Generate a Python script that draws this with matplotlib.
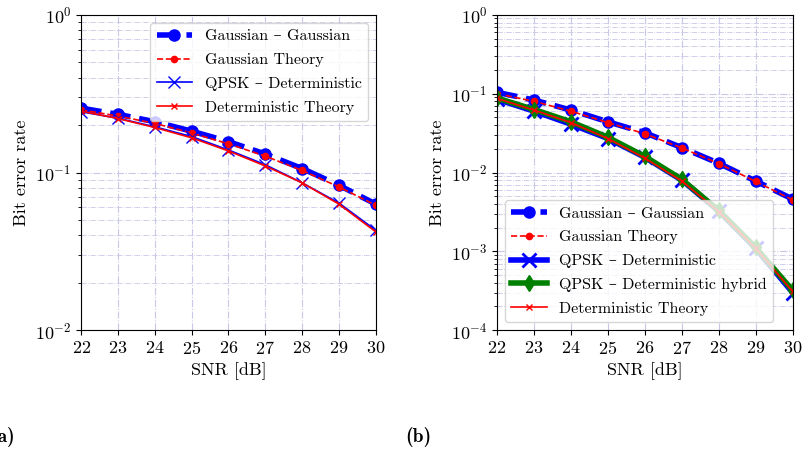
import matplotlib
matplotlib.use("Agg")
import matplotlib.pyplot as plt
from matplotlib.ticker import LogLocator, NullFormatter

plt.rcParams['font.family'] = ['cmr10', 'DejaVu Serif']
plt.rcParams['mathtext.fontset'] = 'cm'
plt.rcParams['axes.formatter.use_mathtext'] = True
plt.rcParams['font.size'] = 13

snr = [22, 23, 24, 25, 26, 27, 28, 29, 30]

# panel (a)
a_gauss_sim = [0.256, 0.234, 0.210, 0.183, 0.157, 0.131, 0.106, 0.083, 0.063]
a_gauss_th = [0.250, 0.228, 0.205, 0.178, 0.152, 0.127, 0.103, 0.081, 0.062]
a_qpsk_det = [0.243, 0.221, 0.195, 0.169, 0.139, 0.112, 0.086, 0.064, 0.043]
a_det_th = [0.245, 0.220, 0.193, 0.166, 0.137, 0.110, 0.086, 0.063, 0.042]

# panel (b)
b_gauss_sim = [0.104, 0.083, 0.062, 0.044, 0.032, 0.0207, 0.0131, 0.0078, 0.0046]
b_gauss_th = [0.100, 0.080, 0.060, 0.043, 0.031, 0.0205, 0.0130, 0.0077, 0.0045]
b_qpsk_det = [0.085, 0.060, 0.041, 0.027, 0.0156, 0.0080, 0.00325, 0.00109, 0.00030]
b_qpsk_hyb = [0.088, 0.063, 0.044, 0.028, 0.0160, 0.0082, 0.00330, 0.00112, 0.00032]
b_det_th = [0.087, 0.062, 0.043, 0.027, 0.0152, 0.0078, 0.00320, 0.00110, 0.00031]

grid_col = '#c8c8e8'


def style_axes(ax, ymin):
    ax.set_yscale('log')
    ax.set_xlim(22, 30)
    ax.set_ylim(ymin, 1)
    ax.set_xticks(snr)
    ax.yaxis.set_minor_locator(LogLocator(base=10, subs=range(2, 10), numticks=20))
    ax.yaxis.set_minor_formatter(NullFormatter())
    ax.grid(True, which='major', linestyle='-.', color=grid_col, linewidth=0.8)
    ax.grid(True, which='minor', linestyle='-.', color=grid_col, linewidth=0.6)
    ax.set_xlabel('SNR [dB]')
    ax.set_ylabel('Bit error rate')
    ax.tick_params(axis='both', labelsize=13)


fig = plt.figure(figsize=(8.03, 4.51), dpi=100)

ax1 = fig.add_axes([0.101, 0.268, 0.367, 0.699])
ax1.plot(snr, a_gauss_sim, '--', color='blue', lw=4, marker='o', ms=8, label='Gaussian – Gaussian')
ax1.plot(snr, a_gauss_th, '--', color='red', lw=1.2, marker='o', ms=4.5, label='Gaussian Theory')
ax1.plot(snr, a_qpsk_det, '-', color='blue', lw=1.2, marker='x', ms=8, label='QPSK – Deterministic')
ax1.plot(snr, a_det_th, '-', color='red', lw=1.2, marker='x', ms=5, label='Deterministic Theory')
style_axes(ax1, 1e-2)
ax1.legend(loc='upper right', fontsize=11.5, framealpha=0.8, handlelength=2.2, labelspacing=0.6)

ax2 = fig.add_axes([0.619, 0.268, 0.368, 0.699])
ax2.plot(snr, b_gauss_sim, '--', color='blue', lw=4, marker='o', ms=8, label='Gaussian – Gaussian')
ax2.plot(snr, b_gauss_th, '--', color='red', lw=1.2, marker='o', ms=4.5, label='Gaussian Theory')
ax2.plot(snr, b_qpsk_det, '-', color='blue', lw=4, marker='x', ms=10, mew=2, label='QPSK – Deterministic')
ax2.plot(snr, b_qpsk_hyb, '-', color='green', lw=4, marker='d', ms=8, label='QPSK – Deterministic hybrid')
ax2.plot(snr, b_det_th, '-', color='red', lw=1.2, marker='x', ms=5, label='Deterministic Theory')
style_axes(ax2, 1e-4)
ax2.legend(loc='lower left', fontsize=11.5, framealpha=0.8, handlelength=2.2, labelspacing=0.6)

# panel tags, bold Computer Modern
fig.text(-0.012, 0.02, '(a)', fontsize=14, family=['cmb10', 'DejaVu Serif'])
fig.text(0.505, 0.02, '(b)', fontsize=14, family=['cmb10', 'DejaVu Serif'])

fig.savefig('out.png', dpi=100)
